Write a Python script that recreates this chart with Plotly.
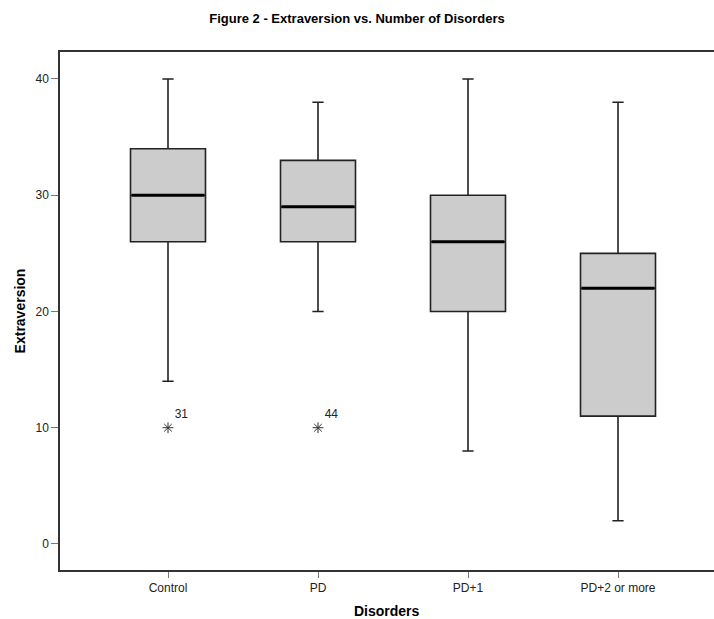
import plotly.graph_objects as go

categories = ["Control", "PD", "PD+1", "PD+2 or more"]
upper = [40, 38, 40, 38]
q3 = [34, 33, 30, 25]
median = [30, 29, 26, 22]
q1 = [26, 26, 20, 11]
lower = [14, 20, 8, 2]
outlier_cat = ["Control", "PD"]
outlier_val = [10, 10]
outlier_label = ["31", "44"]

fig = go.Figure()
fig.add_trace(go.Box(
    x=categories, q1=q1, median=median, q3=q3,
    lowerfence=lower, upperfence=upper,
    fillcolor="#CCCCCC", line=dict(color="#222222", width=1.6),
    width=0.5, whiskerwidth=0.15, boxpoints=False, showlegend=False,
    hoverinfo="skip",
))
fig.add_trace(go.Scatter(
    x=categories, y=median, mode="markers",
    marker=dict(symbol="line-ew-open", size=52, color="black",
                line=dict(color="black", width=3)),
    showlegend=False, hoverinfo="skip",
))
fig.add_trace(go.Scatter(
    x=outlier_cat, y=outlier_val, mode="markers+text",
    text=outlier_label, textposition="top right",
    textfont=dict(family="Liberation Sans, Arial", size=12, color="#222222"),
    marker=dict(symbol="asterisk-open", size=9, color="#333333",
                line=dict(color="#333333", width=1)),
    showlegend=False, hoverinfo="skip",
))

W, H = 714, 619
fig.update_layout(
    width=W, height=H,
    margin=dict(l=60, r=0, t=52, b=49, autoexpand=False),
    paper_bgcolor="white", plot_bgcolor="white",
    font=dict(family="Liberation Sans, Arial", size=12, color="#222222"),
    title=dict(text="<b>Figure 2 - Extraversion vs. Number of Disorders</b>",
               x=0.5, xanchor="center", y=1 - 18 / H, yanchor="middle",
               yref="container",
               font=dict(size=13, color="black")),
    xaxis=dict(
        type="category", range=[-0.72, 3.64], automargin=False,
        showline=True, mirror=True, linecolor="#333333", linewidth=1.5,
        ticks="outside", ticklen=6, tickcolor="#777777",
        showgrid=False, zeroline=False,
    ),
    yaxis=dict(
        range=[-2.24, 42.32], tickvals=[0, 10, 20, 30, 40], automargin=False,
        showline=True, linecolor="#333333", linewidth=1.5,
        ticks="outside", ticklen=7, tickcolor="#777777",
        showgrid=False, zeroline=False,
        title=dict(text="<b>Extraversion</b>", font=dict(size=14, color="black"), standoff=7),
    ),
    annotations=[
        dict(text="<b>Disorders</b>", xref="paper", yref="paper", x=0.5, y=0,
             xanchor="center", yanchor="middle", yshift=-41, showarrow=False,
             font=dict(size=14, color="black")),
    ],
)

fig.write_html(
    "out.html",
    config={"displayModeBar": False},
    post_script="document.body.style.margin='0';"
                "document.documentElement.style.overflow='hidden';"
                "document.body.style.overflow='hidden';",
)
